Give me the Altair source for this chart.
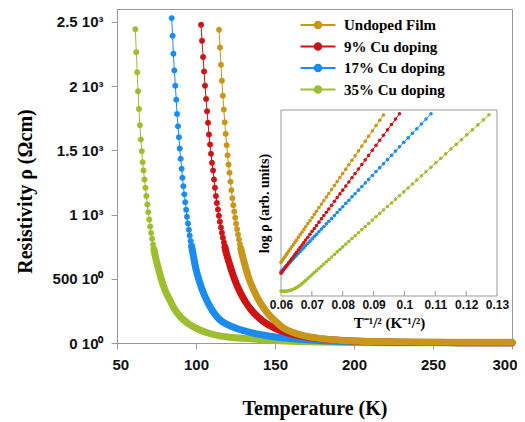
import altair as alt
import pandas as pd

# ---------------- data ----------------
SERIES = ["Undoped Film", "9% Cu doping", "17% Cu doping", "35% Cu doping"]
COLORS = ["#C8961A", "#CC1414", "#1A8CF0", "#9DBE2E"]

# main panel: temperature (K) and resistivity (Ohm cm)
undoped_T = [114.6, 115.2, 115.8, 116.4, 117.0, 117.6, 118.2, 118.8, 119.4, 120.0, 120.6, 121.2,
             121.8, 122.4, 123.0, 123.6, 124.2, 124.8, 125.4, 126.0, 126.6, 127.2, 127.8, 128.4,
             129.0, 131, 133, 136, 139, 142, 146, 150, 155, 161, 168, 176, 186, 200, 220, 250,
             275, 300]
undoped_rho = [2438, 2300, 2166, 2042, 1925, 1817, 1718, 1628, 1540, 1462, 1390, 1325, 1255, 1190,
               1126, 1073, 1023, 975, 929, 886, 845, 806, 769, 734, 700, 605, 520, 425, 350, 288,
               222, 172, 120, 84, 58, 40, 26, 15, 9, 6, 5, 5]

cu9_T = [103.2, 103.8, 104.5, 105.1, 105.7, 106.4, 107.0, 107.6, 108.2, 108.9, 109.5, 110.1, 110.8,
         111.4, 112.0, 112.6, 113.2, 113.9, 114.5, 115.1, 115.8, 116.4, 117.0, 117.7, 118.3, 118.9,
         120, 122, 125, 128, 131, 135, 140, 145, 150, 157, 165, 175, 190, 210, 235, 265, 300]
cu9_rho = [2477, 2352, 2226, 2114, 2003, 1900, 1804, 1714, 1623, 1545, 1473, 1403, 1343, 1273, 1209,
           1144, 1090, 1039, 990, 944, 900, 858, 819, 782, 747, 714, 665, 583, 477, 394, 327, 257,
           194, 148, 115, 82, 57, 38, 22, 11, 5.7, 2.8, 1.4]

cu17_T = [84.6, 85.2, 85.7, 86.3, 86.9, 87.5, 88.0, 88.6, 89.2, 89.7, 90.3, 90.9, 91.4, 92.0, 92.6,
          93.2, 93.8, 94.3, 94.9, 95.5, 96.0, 96.6, 97.2, 97.8, 98.3, 100, 102, 105, 108, 111,
          115, 120, 125, 130, 137, 145, 155, 165, 180, 200, 225, 250, 300]
cu17_rho = [2529, 2391, 2252, 2122, 2003, 1894, 1783, 1687, 1602, 1514, 1434, 1356, 1286, 1221, 1157,
            1096, 1038, 983, 931, 882, 837, 794, 754, 716, 680, 574, 485, 381, 303, 242, 182, 143,
            116, 96, 75, 56, 40, 29, 18, 10, 5, 3, 1.5]

cu35_T = [61.6, 62.2, 62.8, 63.3, 63.9, 64.5, 65.1, 65.7, 66.2, 66.8, 67.4, 68.0, 68.6, 69.2, 69.8,
          70.4, 71.0, 71.6, 72.2, 72.8, 73.4, 74.0, 76, 78, 80, 83, 86, 90, 95, 100, 107, 115,
          120, 130, 140, 150, 165, 180, 200, 230, 260, 300]
cu35_rho = [2443, 2264, 2107, 1959, 1822, 1695, 1584, 1493, 1408, 1343, 1273, 1209, 1144, 1079, 1018,
            961, 907, 857, 811, 767, 727, 689, 589, 499, 425, 345, 273, 205, 152, 115, 80, 55, 46,
            36, 28, 20, 12, 7, 4, 2.5, 1.5, 1]

# inset: T^-1/2 and log rho (arbitrary units)
inset_x = [0.0600, 0.0604, 0.0608, 0.0612, 0.0616, 0.0620, 0.0625, 0.0630, 0.0635, 0.0640, 0.0645,
           0.0650, 0.0656, 0.0662, 0.0668, 0.0674, 0.0680, 0.0687, 0.0694, 0.0701, 0.0708, 0.0715,
           0.0723, 0.0731, 0.0739, 0.0747, 0.0755, 0.0764, 0.0773, 0.0782, 0.0791, 0.0800, 0.0810,
           0.0820, 0.0830, 0.0840, 0.0851, 0.0862, 0.0873, 0.0884, 0.0896, 0.0908, 0.0920, 0.0932,
           0.0945, 0.0958, 0.0971, 0.0984, 0.0998, 0.1012, 0.1026, 0.1040, 0.1055, 0.1070, 0.1086,
           0.1102, 0.1118, 0.1134, 0.1151, 0.1168, 0.1185, 0.1202, 0.1220, 0.1238, 0.1256, 0.1274]
inset_undoped = [1.81, 1.91, 2.00, 2.10, 2.19, 2.29, 2.41, 2.53, 2.65, 2.76, 2.88, 3.00, 3.15, 3.29,
                 3.43, 3.58, 3.72, 3.89, 4.05, 4.22, 4.39, 4.55, 4.75, 4.94, 5.13, 5.32, 5.51, 5.72,
                 5.94, 6.15, 6.37, 6.58, 6.82, 7.06, 7.30, 7.54, 7.80, 8.06, 8.32, 8.59, 8.87, 9.16,
                 9.45, 9.73]
inset_cu9 = [1.22, 1.31, 1.40, 1.49, 1.58, 1.67, 1.78, 1.89, 2.00, 2.11, 2.23, 2.34, 2.47, 2.61,
             2.74, 2.87, 3.01, 3.16, 3.32, 3.48, 3.63, 3.79, 3.97, 4.15, 4.33, 4.50, 4.68, 4.88,
             5.09, 5.29, 5.49, 5.69, 5.91, 6.13, 6.36, 6.58, 6.83, 7.07, 7.32, 7.56, 7.83, 8.10,
             8.37, 8.64, 8.93, 9.22, 9.51, 9.80]
inset_cu17 = [1.31, 1.38, 1.45, 1.52, 1.59, 1.66, 1.75, 1.83, 1.92, 2.01, 2.10, 2.18, 2.29, 2.39,
              2.50, 2.60, 2.71, 2.83, 2.95, 3.07, 3.20, 3.32, 3.46, 3.60, 3.74, 3.88, 4.02, 4.17,
              4.33, 4.49, 4.65, 4.80, 4.98, 5.15, 5.33, 5.50, 5.69, 5.89, 6.08, 6.27, 6.48, 6.69,
              6.90, 7.11, 7.33, 7.56, 7.79, 8.02, 8.26, 8.50, 8.75, 8.99, 9.25, 9.52, 9.80]
inset_cu35 = [0.27, 0.262, 0.258, 0.258, 0.261, 0.269, 0.284, 0.305, 0.332, 0.365, 0.404, 0.45,
              0.512, 0.583, 0.663, 0.751, 0.84, 0.94, 1.05, 1.15, 1.26, 1.36, 1.48, 1.60, 1.72,
              1.84, 1.96, 2.10, 2.23, 2.37, 2.50, 2.64, 2.79, 2.94, 3.09, 3.24, 3.40, 3.57, 3.73,
              3.90, 4.08, 4.26, 4.44, 4.62, 4.81, 5.00, 5.20, 5.39, 5.60, 5.81, 6.02, 6.23, 6.46,
              6.68, 6.92, 7.16, 7.40, 7.64, 7.90, 8.15, 8.40, 8.66, 8.93, 9.20, 9.47, 9.74]

# axes ticks / labels
x_ticks = [50, 100, 150, 200, 250, 300]
y_ticks = [0, 500, 1000, 1500, 2000, 2500]
y_tick_labels = ["0 10⁰", "500 10⁰", "1 10³", "1.5 10³", "2 10³", "2.5 10³"]
inset_ticks = [0.06, 0.07, 0.08, 0.09, 0.10, 0.11, 0.12, 0.13]
inset_inner_ticks = [0.07, 0.08, 0.09, 0.10, 0.11, 0.12]

# ---------------- build tables ----------------
main_sets = {
    "Undoped Film": (undoped_T, undoped_rho),
    "9% Cu doping": (cu9_T, cu9_rho),
    "17% Cu doping": (cu17_T, cu17_rho),
    "35% Cu doping": (cu35_T, cu35_rho),
}
inset_sets = {
    "Undoped Film": inset_undoped,
    "9% Cu doping": inset_cu9,
    "17% Cu doping": inset_cu17,
    "35% Cu doping": inset_cu35,
}

label_expr = ""
for v, lab in zip(y_ticks, y_tick_labels):
    label_expr += f"datum.value == {v} ? '{lab}' : "
label_expr += "''"

cscale = alt.Scale(domain=SERIES, range=COLORS)
LEGEND_PATH = "M-2.5,0H2.5M-0.47,0A0.47,0.47,0,1,0,0.47,0A0.47,0.47,0,1,0,-0.47,0Z"
leg = alt.Legend(title=None, orient="none", legendX=193, legendY=8, symbolType=LEGEND_PATH,
                 symbolSize=196, symbolStrokeWidth=2, labelFont="Liberation Serif",
                 labelFontWeight="bold", labelFontSize=15, labelColor="black", labelOffset=18,
                 rowPadding=5.5, padding=0, symbolOpacity=1)

stroke_enc = alt.Stroke("series:N", scale=cscale, legend=leg)
fill_enc = alt.Fill("series:N", scale=cscale, legend=leg)

xm = alt.X("T:Q", scale=alt.Scale(domain=[50, 300], nice=False, zero=False),
           axis=alt.Axis(values=x_ticks, title="Temperature (K)", grid=False, labelFlush=True,
                         labelFlushOffset=5,
                         labelFont="Liberation Sans", labelFontSize=15, labelFontWeight="bold",
                         labelColor="#111", tickColor="#999", domainColor="#999", tickSize=6,
                         labelPadding=8, titleFont="Liberation Serif", titleFontSize=20,
                         titleFontWeight="bold", titleColor="black", titleX=197.5, titleY=65,
                         titleBaseline="middle"))
ym = alt.Y("rho:Q", scale=alt.Scale(domain=[0, 2600], nice=False, zero=False),
           axis=alt.Axis(values=y_ticks, labelExpr=label_expr, title="Resistivity ρ (Ωcm)",
                         grid=False, labelFont="Liberation Sans", labelFontSize=15,
                         labelFontWeight="bold", labelColor="#111", tickColor="#999",
                         domainColor="#999", tickSize=6, labelPadding=8, labelFlush=False,
                         titleFont="Liberation Serif", titleFontSize=20, titleFontWeight="bold",
                         titleColor="black", titleX=-92, titleY=182, titleAngle=270,
                         titleAlign="center", titleBaseline="middle"))

main_layers = []
for name in ["35% Cu doping", "17% Cu doping", "9% Cu doping", "Undoped Film"]:
    T, rho = main_sets[name]
    df = pd.DataFrame({"series": name, "T": T, "rho": rho})
    base = alt.Chart(df).encode(x=xm, y=ym)
    band = base.transform_filter("datum.rho <= 760").mark_line(
        strokeWidth=7, strokeCap="round", strokeJoin="round", interpolate="monotone"
    ).encode(stroke=stroke_enc)
    thin = base.mark_line(strokeWidth=1).encode(stroke=stroke_enc)
    dots = base.mark_circle(size=30, opacity=1, strokeWidth=0.5).encode(fill=fill_enc,
                                                                         stroke=stroke_enc)
    main_layers += [thin, band, dots]

main = alt.layer(*main_layers)

# ---------------- inset ----------------
xi = alt.X("x:Q", scale=alt.Scale(domain=[0.06, 0.13], range=[164, 380], nice=False, zero=False),
           axis=alt.Axis(orient="bottom", offset=-47, values=inset_ticks, format="~g",
                         title="T⁻¹/² (K⁻¹/²)", domain=False, ticks=False, grid=False,
                         labelPadding=3, labelFont="Liberation Sans", labelFontSize=12,
                         labelFontWeight="bold", labelColor="#111", labelOverlap=False,
                         labelFlush=False,
                         titleFont="Liberation Serif", titleFontSize=15, titleFontWeight="bold",
                         titleColor="black", titlePadding=5))
yi = alt.Y("y:Q", scale=alt.Scale(domain=[0, 10], range=[287, 101], nice=False, zero=False),
           axis=alt.Axis(orient="left", offset=-164, labels=False, ticks=False, domain=False,
                         grid=False, title="log ρ (arb. units)", titleFont="Liberation Serif",
                         titleFontSize=14, titleFontWeight="bold", titleColor="black",
                         titlePadding=10))

frame_df = pd.DataFrame({"x": [0.06], "x2": [0.13], "y": [0], "y2": [10]})
frame = alt.Chart(frame_df).mark_rect(fill="white", stroke="#999", strokeWidth=1).encode(
    x=xi, x2="x2:Q", y=yi, y2="y2:Q")

tick_df = pd.DataFrame({"x": inset_inner_ticks, "y": [0] * len(inset_inner_ticks),
                        "y2": [0.27] * len(inset_inner_ticks)})
ticks = alt.Chart(tick_df).mark_rule(color="#999", strokeWidth=1).encode(x=xi, y=yi, y2="y2:Q")

inset_layers = [frame, ticks]
for name in ["35% Cu doping", "17% Cu doping", "9% Cu doping", "Undoped Film"]:
    vals = inset_sets[name]
    df = pd.DataFrame({"series": name, "x": inset_x[:len(vals)], "y": vals})
    base = alt.Chart(df).encode(x=xi, y=yi)
    inset_layers.append(base.mark_line(strokeWidth=1).encode(stroke=stroke_enc))
    inset_layers.append(base.mark_circle(size=13, opacity=1).encode(fill=fill_enc))

inset = alt.layer(*inset_layers)

chart = alt.layer(main, inset).resolve_scale(x="independent", y="independent").properties(
    width=395, height=334,
    autosize=alt.AutoSizeParams(type="none"),
    padding={"left": 109, "top": 1, "right": 5, "bottom": 78},
).configure_view(stroke="#999", strokeWidth=1)

chart.save("out.html", embed_options={"renderer": "svg", "actions": False})
